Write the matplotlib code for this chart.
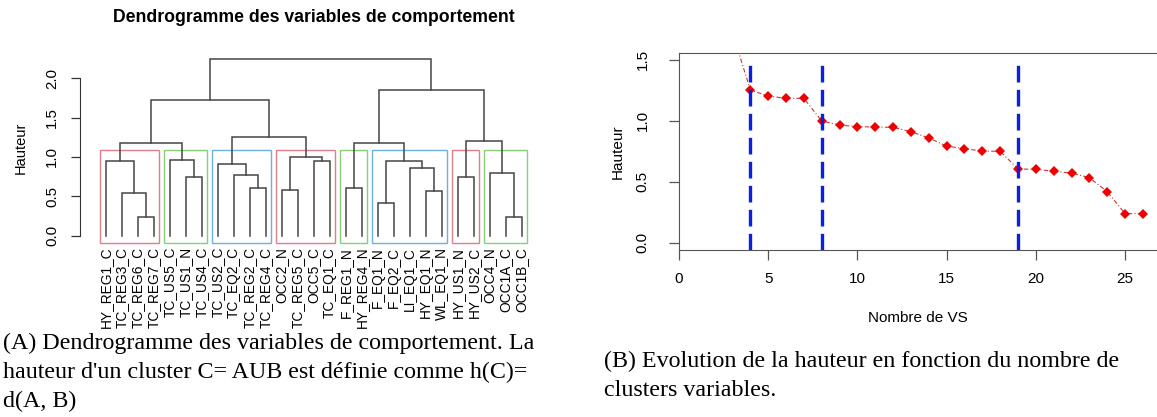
import matplotlib
matplotlib.use('Agg')
import matplotlib.pyplot as plt
from matplotlib.patches import Rectangle

plt.rcParams['font.family'] = ['Liberation Sans', 'DejaVu Sans']

# leaves of the dendrogram, in plotting order
leaf_labels = ['HY_REG1_C', 'TC_REG3_C', 'TC_REG6_C', 'TC_REG7_C', 'TC_US5_C',
               'TC_US1_N', 'TC_US4_C', 'TC_US2_C', 'TC_EQ2_C', 'TC_REG2_C',
               'TC_REG4_C', 'OCC2_N', 'TC_REG5_C', 'OCC5_C', 'TC_EQ1_C',
               'F_REG1_N', 'HY_REG4_N', 'F_EQ1_N', 'F_EQ2_C', 'LI_EQ1_C',
               'HY_EQ1_N', 'WL_EQ1_N', 'HY_US1_N', 'HY_US2_C', 'OCC4_N',
               'OCC1A_C', 'OCC1B_C']

# merges: (child a, child b, height); ids >= 27 are earlier merges (27 + row)
merge_a = [2, 1, 0, 5, 4, 29, 9, 8, 7, 11, 13, 36, 35, 32, 15, 17, 20, 19, 42, 41, 22, 25, 24, 47, 46, 40]
merge_b = [3, 27, 28, 6, 30, 31, 10, 33, 34, 12, 14, 37, 38, 39, 16, 18, 21, 43, 44, 45, 23, 26, 48, 49, 50, 51]
merge_h = [0.237, 0.54, 0.945, 0.75, 0.964, 1.183, 0.604, 0.77, 0.91, 0.585, 0.951, 0.997,
           1.251, 1.72, 0.601, 0.418, 0.571, 0.858, 0.948, 1.183, 0.749, 0.238, 0.792,
           1.202, 1.852, 2.242]

# clusters (first leaf, last leaf) framed by rect.hclust, k = 8
cluster_first = [1, 5, 8, 12, 16, 18, 23, 25]
cluster_last = [4, 7, 11, 15, 17, 22, 24, 27]
cluster_colors = ['#DF7F8E', '#86CF78', '#6FB0E3']
cut_height = 1.094

# evolution of the height with the number of clusters
nb_vs = list(range(1, 27))
hauteur_vs = [2.242, 1.852, 1.72, 1.251, 1.202, 1.183, 1.183, 0.997, 0.964, 0.951,
              0.948, 0.945, 0.91, 0.858, 0.792, 0.77, 0.751, 0.749, 0.604, 0.601,
              0.585, 0.571, 0.533, 0.418, 0.238, 0.238]
cuts = [4, 8, 19]

W, H = 1157, 417
fig = plt.figure(figsize=(W / 100, H / 100), dpi=100)

def px_axes(left, right, top, bottom):
    return fig.add_axes([left / W, 1 - bottom / H, (right - left) / W, (bottom - top) / H])

# ---------------- dendrogram ----------------
ax = px_axes(80, 560, 52.3, 242.7)
n = len(leaf_labels)
xpos = {i: i + 1 for i in range(n)}
ypos = {i: 0.0 for i in range(n)}
line_col = '#454545'
for k, (a, b, h) in enumerate(zip(merge_a, merge_b, merge_h)):
    xa, xb = xpos[a], xpos[b]
    ax.plot([xa, xa, xb, xb], [ypos[a], h, h, ypos[b]], color=line_col, lw=1.1,
            solid_joinstyle='miter')
    xpos[n + k] = (xa + xb) / 2
    ypos[n + k] = h

ymin, ymax = -0.089, 2.33
for i, (f, l) in enumerate(zip(cluster_first, cluster_last)):
    ax.add_patch(Rectangle((f - 0.34, ymin), (l + 0.33) - (f - 0.34), cut_height - ymin,
                           fill=False, edgecolor=cluster_colors[i % 3], lw=1.0,
                           clip_on=False))

ax.set_xlim(-0.606, 29.4)
ax.set_ylim(ymin, ymax)
for s in ['top', 'right', 'bottom']:
    ax.spines[s].set_visible(False)
ax.spines['left'].set_bounds(0, 2.0)
ax.spines['left'].set_color('#333333')
ax.set_yticks([0, 0.5, 1.0, 1.5, 2.0])
ax.set_yticklabels(['0.0', '0.5', '1.0', '1.5', '2.0'], rotation=90, va='center')
ax.tick_params(axis='y', length=6.5, width=0.9, color='#333333', labelsize=10.8, pad=8.5)
ax.set_xticks(range(1, n + 1))
ax.set_xticklabels(leaf_labels, rotation=90, fontsize=9.9)
ax.tick_params(axis='x', length=0, pad=3)
ax.set_ylabel('Hauteur', fontsize=10.5, labelpad=12.5)
fig.text(313.5 / W, 1 - 18 / H, 'Dendrogramme des variables de comportement',
         ha='center', va='center', fontsize=12.7, fontweight='bold')

# ---------------- height curve ----------------
ax2 = px_axes(679, 1157, 52.7, 250)
ax2.plot(nb_vs, hauteur_vs, color='#c23b3b', lw=0.8, linestyle=(0, (4, 2, 1, 2)))
ax2.plot(nb_vs, hauteur_vs, linestyle='none', marker='D', markersize=4.8,
         color='#ee0000', markeredgewidth=0)
for c in cuts:
    ax2.plot([c, c], [-0.06, 1.48], color='#0a1fe0', lw=2.4, linestyle=(0, (5, 2.2)))
ax2.set_xlim(0, 26.79)
ax2.set_ylim(-0.06, 1.557)
ax2.spines['right'].set_visible(False)
for s in ax2.spines.values():
    s.set_color('#555555')
ax2.set_xticks([0, 5, 10, 15, 20, 25])
ax2.set_yticks([0, 0.5, 1.0, 1.5])
ax2.set_yticklabels(['0.0', '0.5', '1.0', '1.5'], rotation=90, va='center')
ax2.tick_params(length=7, width=0.9, color='#555555', labelsize=11)
ax2.tick_params(axis='y', pad=14)
ax2.tick_params(axis='x', pad=9)
ax2.set_xlabel('Nombre de VS', fontsize=11, labelpad=18)
ax2.set_ylabel('Hauteur', fontsize=11, labelpad=8)

# ---------------- captions ----------------
cap_font = dict(family=['Liberation Serif', 'DejaVu Serif'], fontsize=17.3, ha='left',
                va='center')
fig.text(3 / W, 1 - 343 / H, '(A) Dendrogramme des variables de comportement. La', **cap_font)
fig.text(3 / W, 1 - 372 / H, "hauteur d'un cluster C= AUB est définie comme h(C)=", **cap_font)
fig.text(3 / W, 1 - 401 / H, 'd(A, B)', **cap_font)
fig.text(604 / W, 1 - 361 / H, '(B) Evolution de la hauteur en fonction du nombre de', **cap_font)
fig.text(604 / W, 1 - 390 / H, 'clusters variables.', **cap_font)

fig.savefig('out.png', dpi=100)
